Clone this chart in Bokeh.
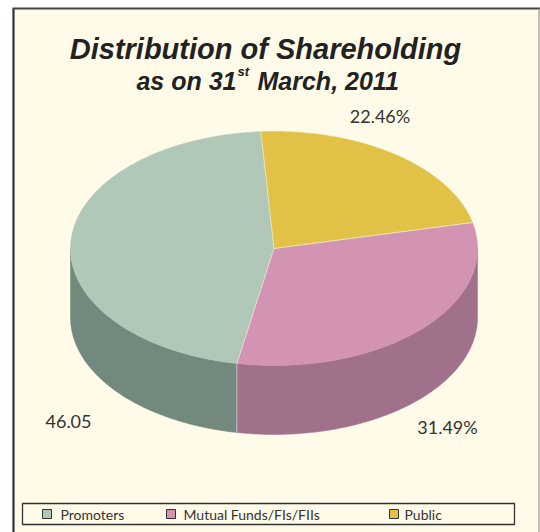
import numpy as np
from bokeh.plotting import figure
from bokeh.models import Range1d
from bokeh.core.properties import value
from bokeh.embed import file_html
from bokeh.resources import INLINE

# ---- data ----
categories = ["Promoters", "Mutual Funds/FIs/FIIs", "Public"]
shares = [46.05, 31.49, 22.46]
label_texts = ["46.05", "31.49%", "22.46%"]
top_colors = ["#B1C8B9", "#D394B3", "#E1C246"]
side_colors = ["#74897D", "#A1708A", "#B89A30"]
title_line1 = "Distribution of Shareholding"
title_line2_a = "as on 31"
title_line2_sup = "st"
title_line2_b = "March, 2011"

# ---- layout (page pixel coordinates) ----
W, H = 540, 532
CX, CY, RX, RY, DEPTH = 273.5, 248.0, 203.5, 117.0, 69.0
START = 93.7  # degrees, counter-clockwise
label_pos = [(68, 421), (447, 426), (379.5, 115)]
legend_sq_x = [42, 166, 389]
legend_tx_x = [60, 183, 404]

p = figure(width=W, height=H, x_range=Range1d(0, W), y_range=Range1d(H, 0),
           output_backend="svg", toolbar_location=None, min_border=0)
p.axis.visible = False
p.grid.visible = False
p.outline_line_color = None
p.background_fill_color = "white"
p.border_fill_color = "white"

# panel background and frame
p.quad(left=[13], right=[539], top=[8], bottom=[H], fill_color="#FFFBE8", line_color=None)
p.line(x=[13, 13], y=[8, H], line_color="#333333", line_width=2.2)
p.line(x=[12, 540], y=[8, 8], line_color="#444444", line_width=2)
p.line(x=[538.5, 538.5], y=[8, H], line_color="#9A9A90", line_width=1.2)


def pt(deg, dy=0.0):
    t = np.radians(deg)
    return CX + RX * np.cos(t), CY - RY * np.sin(t) + dy


total = float(sum(shares))
bounds = [START]
for s in shares:
    bounds.append(bounds[-1] + 360.0 * s / total)

# side walls (front half: 180..360 mod 360)
side_xs, side_ys, side_cols = [], [], []
for i in range(len(shares)):
    a0, a1 = bounds[i], bounds[i + 1]
    for lo, hi in [(180, 360), (540, 720)]:
        s0, s1 = max(a0, lo), min(a1, hi)
        if s1 > s0:
            ang = np.linspace(s0, s1, 120)
            tx, ty = pt(ang)
            bx, by = pt(ang[::-1], DEPTH)
            side_xs.append(list(np.concatenate([tx, bx])))
            side_ys.append(list(np.concatenate([ty, by])))
            side_cols.append(side_colors[i])
p.patches(xs=side_xs, ys=side_ys, fill_color=side_cols, line_color=side_cols, line_width=0.5)

# top face
top_xs, top_ys = [], []
for i in range(len(shares)):
    ang = np.linspace(bounds[i], bounds[i + 1], 200)
    ax, ay = pt(ang)
    top_xs.append([CX] + list(ax))
    top_ys.append([CY] + list(ay))
p.patches(xs=top_xs, ys=top_ys, fill_color=top_colors, line_color=top_colors, line_width=0.5)

# separators
sep_col = "#EDEBDC"
for b in bounds[:-1]:
    ex, ey = pt(b)
    p.line(x=[CX, ex], y=[CY, ey], line_color=sep_col, line_width=1, line_alpha=0.8)
    bm = b % 360
    if 180 < bm < 360:
        p.line(x=[ex, ex], y=[ey, ey + DEPTH], line_color=sep_col, line_width=1, line_alpha=0.6)

# value labels
p.text(x=[q[0] for q in label_pos], y=[q[1] for q in label_pos], text=label_texts,
       text_font=value("Lato"), text_font_size="18px", text_color="#333333",
       text_align="center", text_baseline="middle")

# titles
TF = value("Liberation Sans")
p.text(x=[265], y=[48], text=[title_line1], text_font=TF, text_font_size="29px",
       text_font_style="bold italic", text_color="#222222", text_align="center",
       text_baseline="alphabetic")
p.text(x=[236], y=[80], text=[title_line2_a], text_font=TF, text_font_size="25px",
       text_font_style="bold italic", text_color="#222222", text_align="right",
       text_baseline="alphabetic")
p.text(x=[237], y=[71], text=[title_line2_sup], text_font=TF, text_font_size="13px",
       text_font_style="bold italic", text_color="#222222", text_align="left",
       text_baseline="alphabetic")
p.text(x=[257], y=[80], text=[title_line2_b], text_font=TF, text_font_size="25px",
       text_font_style="bold italic", text_color="#222222", text_align="left",
       text_baseline="alphabetic")

# legend
p.quad(left=[22], right=[514], top=[503], bottom=[524], fill_color=None,
       line_color="#333333", line_width=1.3)
p.quad(left=legend_sq_x, right=[x + 9 for x in legend_sq_x], top=[509] * 3, bottom=[518] * 3,
       fill_color=top_colors, line_color="#333333", line_width=1)
p.text(x=legend_tx_x, y=[513.5] * 3, text=categories, text_font=value("Lato"),
       text_font_size="14px", text_color="#333333", text_align="left", text_baseline="middle")

open("out.html", "w").write(file_html(p, INLINE))
